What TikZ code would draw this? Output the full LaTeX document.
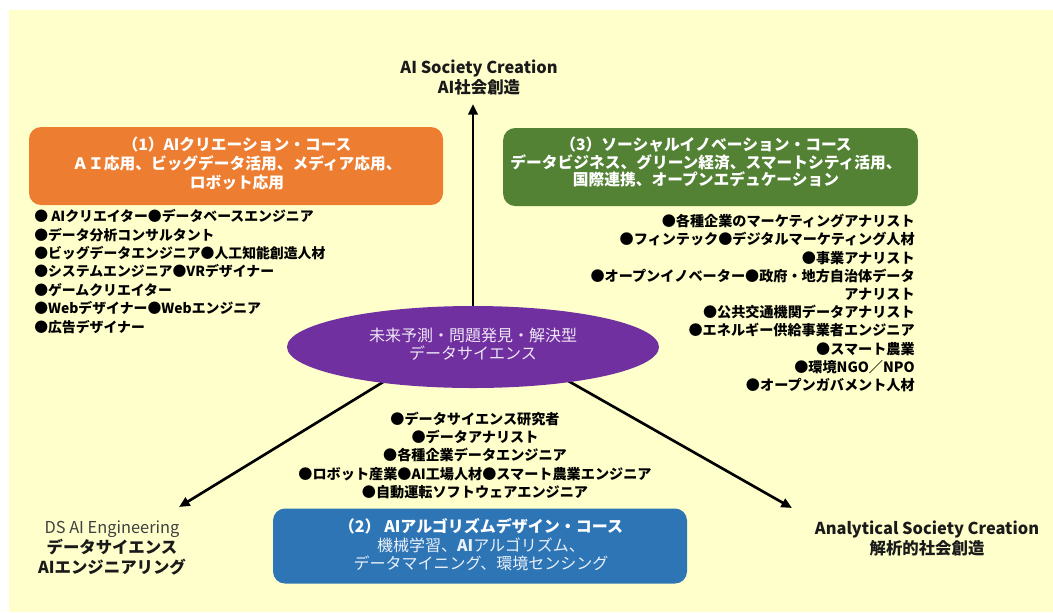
\documentclass[tikz,border=0pt]{standalone}
\usepackage{fontspec}
\setmainfont{Noto Sans CJK JP}
\usetikzlibrary{arrows.meta,shapes.geometric}
\definecolor{bgyellow}{HTML}{FFFFCC}
\definecolor{corange}{HTML}{ED7D31}
\definecolor{cgreen}{HTML}{548235}
\definecolor{cblue}{HTML}{2E75B6}
\definecolor{cpurple}{HTML}{7030A0}
\definecolor{ctext}{HTML}{1A1A1A}
\tikzset{
  coursebox/.style={draw=none, rounded corners=9pt, inner sep=0pt},
  coursetext/.style={text=white, align=center, inner sep=0pt, font=\bfseries\fontsize{11.8}{13.9}\selectfont},
  joblist/.style={text=black, inner sep=0pt, font=\bfseries\fontsize{10.4}{13.8}\selectfont},
  goal/.style={text=ctext, align=center, inner sep=0pt, font=\bfseries\fontsize{12.3}{15}\selectfont},
  arr/.style={line width=2pt, -{Triangle[length=8pt,width=7pt]}},
}
\begin{document}
\begin{tikzpicture}[x=0.75pt,y=-0.75pt]
\useasboundingbox (0,0) rectangle (1053,612);
\fill[bgyellow] (9,10) rectangle (1053,612);

% goals
\node[goal] (top) at (479,77) {AI Society Creation\\AI社会創造};
\node[goal] (dsai) at (112,548) {{\mdseries\color{black!75}DS AI Engineering}\\データサイエンス\\AIエンジニアリング};
\node[goal] (asc) at (927,538) {Analytical Society Creation\\解析的社会創造};

% connectors (under the ellipse)
\coordinate (t0) at (473,330);
\coordinate (t1) at (473,104);
\coordinate (l0) at (424,357);
\coordinate (l1) at (179,507);
\coordinate (r0) at (526,357);
\coordinate (r1) at (792,508);
\draw[arr] (t0) -- (t1);
\draw[arr] (l0) -- (l1);
\draw[arr] (r0) -- (r1);

% central ellipse
\node[ellipse, fill=cpurple, minimum width=279pt, minimum height=61.5pt, inner sep=0pt] (ds) at (473,347) {};
\node[text=white!88!cpurple, align=center, inner sep=0pt, font=\fontsize{12}{13.5}\selectfont] (dst) at (473,344) {未来予測・問題発見・解決型\\データサイエンス};

% course boxes
\node[coursebox, fill=corange, minimum width=310.5pt, minimum height=58.5pt] (c1) at (236,166) {};
\node[coursetext] (c1t) at (237,163.5) {（1）AIクリエーション・コース\\ＡＩ応用、ビッグデータ活用、メディア応用、\\ロボット応用};

\node[coursebox, fill=cgreen, minimum width=311pt, minimum height=58.5pt] (c3) at (710.5,167) {};
\node[coursetext, font=\bfseries\fontsize{11.8}{12.8}\selectfont] (c3t) at (706,162) {（3）ソーシャルイノベーション・コース\\データビジネス、グリーン経済、スマートシティ活用、\\国際連携、オープンエデュケーション};

\node[coursebox, fill=cblue, minimum width=310.5pt, minimum height=56.25pt] (c2) at (480,546) {};
\node[coursetext, font=\fontsize{12}{13.9}\selectfont, text=white!90!cblue] (c2t) at (481,545) {{\bfseries\color{white}（2） AIアルゴリズムデザイン・コース}\\機械学習、{\bfseries AI}アルゴリズム、\\データマイニング、環境センシング};

% job lists
\node[joblist, anchor=west, align=left] (j1) at (34,271.5) {● AIクリエイター●データベースエンジニア\\●データ分析コンサルタント\\●ビッグデータエンジニア●人工知能創造人材\\●システムエンジニア●VRデザイナー\\●ゲームクリエイター\\●Webデザイナー●Webエンジニア\\●広告デザイナー};

\node[joblist, anchor=east, align=right, font=\bfseries\fontsize{10.6}{13.65}\selectfont] (j3) at (915,303) {●各種企業のマーケティングアナリスト\\●フィンテック●デジタルマーケティング人材\\●事業アナリスト\\●オープンイノベーター●政府・地方自治体データ\\アナリスト\\●公共交通機関データアナリスト\\●エネルギー供給事業者エンジニア\\●スマート農業\\●環境NGO／NPO\\●オープンガバメント人材};

\node[joblist, align=center, font=\bfseries\fontsize{10.6}{13.7}\selectfont] (j2) at (475,455.5) {●データサイエンス研究者\\●データアナリスト\\●各種企業データエンジニア\\●ロボット産業●AI工場人材●スマート農業エンジニア\\●自動運転ソフトウェアエンジニア};
\end{tikzpicture}
\end{document}
